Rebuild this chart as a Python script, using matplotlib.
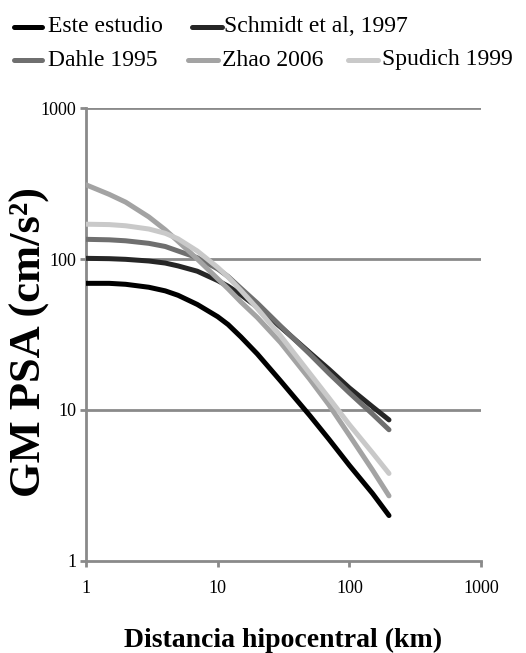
import numpy as np
import matplotlib
matplotlib.use("Agg")
import matplotlib.pyplot as plt
from matplotlib.lines import Line2D

plt.rcParams["font.family"] = ["Liberation Serif", "DejaVu Serif"]

# Hypocentral distance (km) and predicted ground motion (cm/s^2) per model
distance = [1, 1.5, 2, 3, 4, 5, 7, 10, 12, 15, 20, 30, 50, 70, 100, 150, 200]
este_estudio = [69, 69, 68, 65, 61.5, 57.5, 50, 41.5, 36.8, 30.5, 23.5, 15.6, 9.2, 6.4, 4.3, 2.8, 2.0]
schmidt_1997 = [101, 100.5, 99.5, 97, 94, 90, 83, 72, 66, 58, 48, 35.5, 24, 18.6, 14, 10.5, 8.6]
dahle_1995 = [135, 134, 132, 127, 121, 113, 102, 86, 76.5, 64, 51, 36, 23.5, 17.5, 13, 9.4, 7.4]
zhao_2006 = [310, 268, 238, 190, 156, 131, 100, 74, 63.5, 52, 41, 28, 16, 10.8, 6.8, 4.0, 2.7]
spudich_1999 = [170, 169, 166, 158, 148, 136, 113, 88, 76, 62, 47, 31, 17.5, 12, 8.0, 5.2, 3.8]

series = [
    ("Este estudio", este_estudio, "#000000"),
    ("Schmidt et al, 1997", schmidt_1997, "#262626"),
    ("Dahle 1995", dahle_1995, "#6f6f6f"),
    ("Zhao 2006", zhao_2006, "#a3a3a3"),
    ("Spudich 1999", spudich_1999, "#c9c9c9"),
]

fig = plt.figure(figsize=(5.26, 6.53), dpi=100)
ax = fig.add_axes([0.1635, 0.1409, 0.751, 0.6937])

for name, vals, col in series:
    ax.plot(distance, vals, color=col, lw=3.6, solid_capstyle="round",
            solid_joinstyle="round", zorder=3)

ax.set_xscale("log")
ax.set_yscale("log")
ax.set_xlim(1, 1000)
ax.set_ylim(1, 1000)

grid_col = "#8a8a8a"
for v in [10, 100, 1000]:
    ax.axhline(v, color=grid_col, lw=2.0, zorder=1)

for s in ["top", "right"]:
    ax.spines[s].set_visible(False)
for s in ["left", "bottom"]:
    ax.spines[s].set_color(grid_col)
    ax.spines[s].set_linewidth(2.0)

ax.set_xticks([1, 10, 100, 1000])
ax.set_xticklabels(["1", "10", "100", "1000"])
ax.set_yticks([1, 10, 100, 1000])
ax.set_yticklabels(["1", "10", "100", "1000"])
ax.minorticks_off()
ax.tick_params(axis="both", which="major", length=4, width=2.0, color=grid_col,
               labelsize=13, pad=3)
ax.tick_params(axis="x", pad=10)

ax.set_xlabel("Distancia hipocentral (km)", fontsize=20, fontweight="bold")
ax.xaxis.set_label_coords(0.5, -0.148)
ax.set_ylabel("GM PSA (cm/s²)", fontsize=32, fontweight="bold")
ax.yaxis.set_label_coords(-0.09, 0.483)

# Legend drawn as two rows of handle + label
W, H = 526.0, 653.0
rows = [
    (27, [(14, 42, 48, 0), (192, 222, 224, 1)]),
    (60, [(14, 42, 48, 2), (188, 218, 222, 3), (348, 378, 382, 4)]),
]
for yc, items in rows:
    for x0, x1, xt, idx in items:
        name, _, col = series[idx]
        fig.add_artist(Line2D([x0 / W, x1 / W], [1 - yc / H, 1 - yc / H],
                              color=col, lw=3.6, solid_capstyle="round",
                              transform=fig.transFigure))
        fig.text(xt / W, 1 - yc / H, name, fontsize=17, va="center", ha="left")

fig.savefig("out.png", dpi=100)
